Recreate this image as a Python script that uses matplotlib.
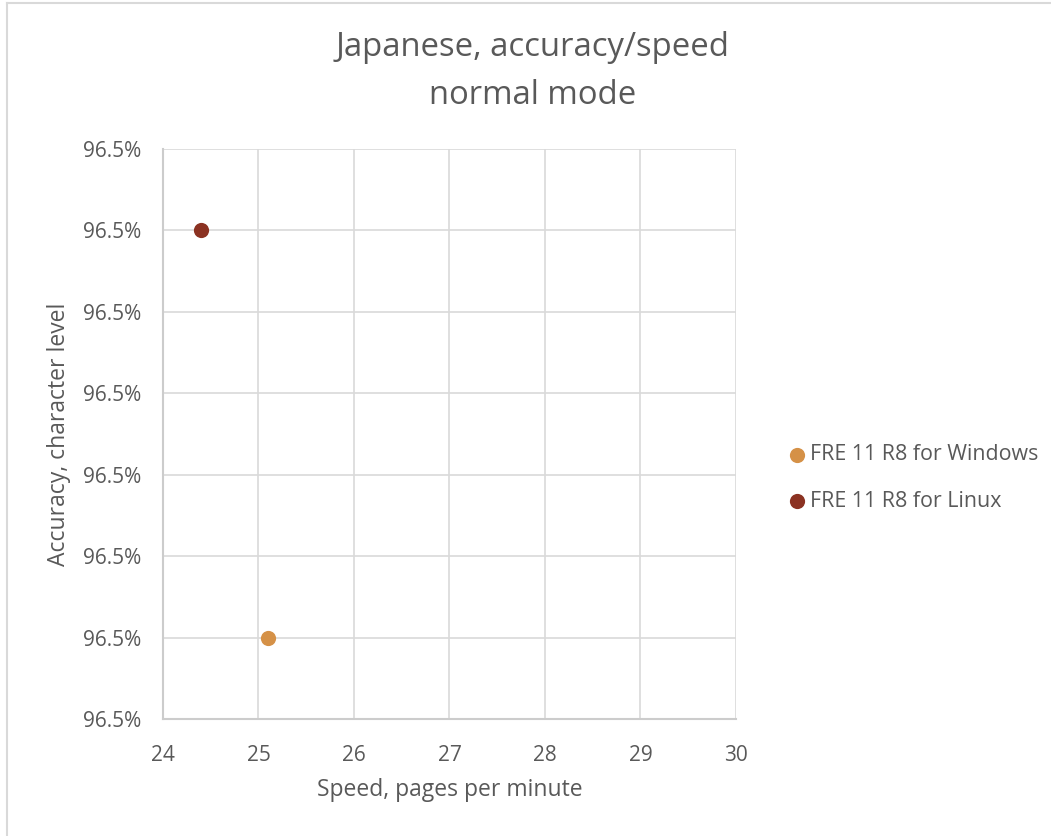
import matplotlib.pyplot as plt
from matplotlib.ticker import FuncFormatter
from matplotlib.lines import Line2D

# data
series_names = ["FRE 11 R8 for Windows", "FRE 11 R8 for Linux"]
speed = [25.1, 24.4]
accuracy = [0.96505, 0.96530]
colors = ["#D59147", "#8B3222"]

x_ticks = [24, 25, 26, 27, 28, 29, 30]
y_ticks = [0.96500, 0.96505, 0.96510, 0.96515, 0.96520, 0.96525, 0.96530, 0.96535]

text_col = "#595959"
grid_col = "#d9d9d9"
plt.rcParams["font.family"] = ["Open Sans", "DejaVu Sans"]

fig = plt.figure(figsize=(10.51, 8.36), dpi=100)
W, H = 1051, 836
ax = fig.add_axes([163 / W, 1 - 719 / H, (736 - 163) / W, (719 - 149) / H])

# chart border (only left and top edges are visible in the original)
fig.add_artist(Line2D([7 / W, 7 / W], [0, 1 - 3 / H], transform=fig.transFigure,
                      color=grid_col, linewidth=1.5))
fig.add_artist(Line2D([7 / W, 1], [1 - 3 / H, 1 - 3 / H], transform=fig.transFigure,
                      color=grid_col, linewidth=1.5))

for name, x, y, c in zip(series_names, speed, accuracy, colors):
    ax.scatter([x], [y], s=120, color=c, label=name, zorder=3, linewidths=0)

ax.set_xlim(24, 30)
ax.set_ylim(y_ticks[0], y_ticks[-1])
ax.set_xticks(x_ticks)
ax.set_yticks(y_ticks)
ax.yaxis.set_major_formatter(FuncFormatter(lambda v, p: f"{v * 100:.1f}%"))
ax.grid(True, color=grid_col, linewidth=1.2)
ax.set_axisbelow(True)
for s in ["top", "right"]:
    ax.spines[s].set_visible(False)
for s in ["left", "bottom"]:
    ax.spines[s].set_color("#cccccc")
    ax.spines[s].set_linewidth(1.5)
ax.tick_params(length=0, labelsize=15, colors=text_col, pad=16)
ax.tick_params(axis="x", pad=19)

ax.set_xlabel("Speed, pages per minute", fontsize=16.5, color=text_col, va="center")
ax.xaxis.set_label_coords(0.5, (719 - 790) / 570)
ax.set_ylabel("Accuracy, character level", fontsize=16.5, color=text_col, va="center")
ax.yaxis.set_label_coords((59 - 163) / 573, 0.5)

fig.text(533 / W, 1 - 72 / H, "Japanese, accuracy/speed\nnormal mode", ha="center",
         va="center", fontsize=23.7, color=text_col, linespacing=1.6)

ax.legend(loc="center left", bbox_to_anchor=(788.5 / W, 1 - 478 / H),
          bbox_transform=fig.transFigure, frameon=False, fontsize=15.4,
          labelcolor=text_col, handletextpad=0.2, handlelength=0.8,
          borderpad=0, labelspacing=1.2, borderaxespad=0)

fig.savefig("out.png", dpi=100)
